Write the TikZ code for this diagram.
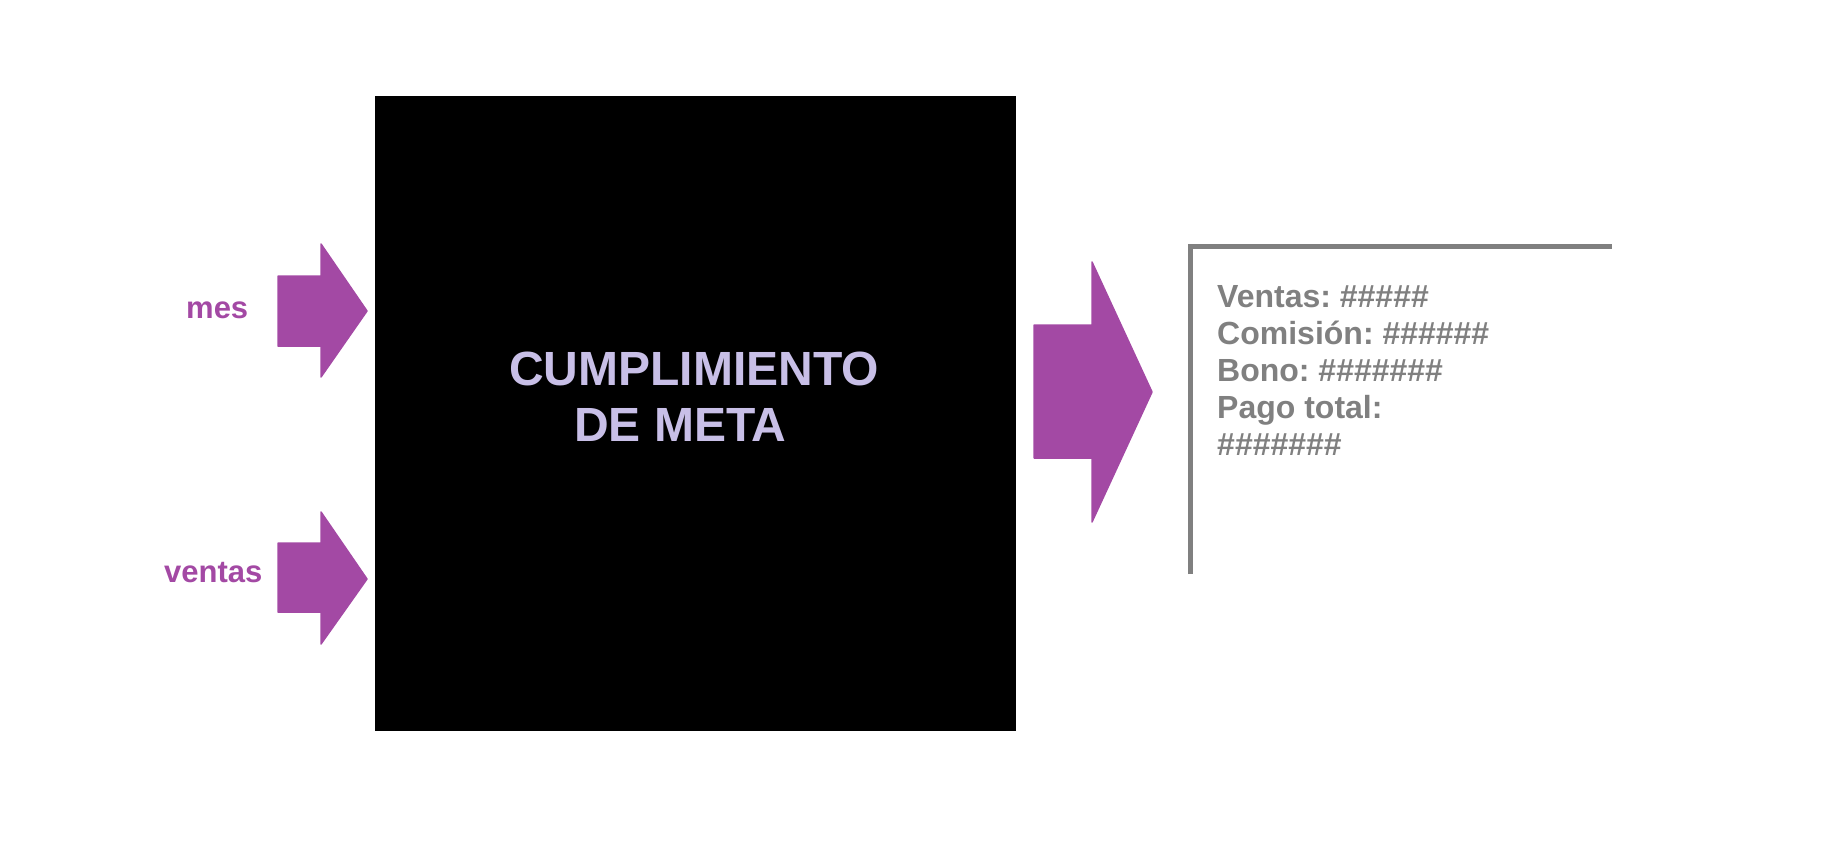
\documentclass[tikz,border=0pt]{standalone}
\usepackage{fontspec}
\setmainfont{Liberation Sans}
\frenchspacing
\definecolor{arrowpurple}{HTML}{A349A4}
\definecolor{lav}{HTML}{C8BFE7}
\definecolor{txtgray}{HTML}{808080}
\tikzset{
  fatarrow/.style={fill=arrowpurple, draw=arrowpurple, line width=1.5pt, line join=round},
  inlabel/.style={text=arrowpurple, font=\bfseries\fontsize{31}{37}\selectfont, inner sep=0pt, anchor=base west},
  titletext/.style={text=lav, font=\bfseries\fontsize{48}{56}\selectfont, inner sep=0pt, anchor=base west},
  outtext/.style={text=txtgray, font=\bfseries\fontsize{32}{36.8}\selectfont, inner sep=0pt, anchor=base west, align=left},
}
\begin{document}
\begin{tikzpicture}[x=1pt,y=-1pt]
\useasboundingbox (0,0) rectangle (1834,844);
% main black box
\node[fill=black, inner sep=0pt, minimum width=641pt, minimum height=635pt, anchor=north west] (box) at (375,96) {};
\node[titletext] (t1) at (509,385) {CUMPLIMIENTO};
\node[titletext] (t2) at (574,441) {DE META};
% input arrows
\draw[fatarrow] (278,276) -- (321,276) -- (321,244) -- (367,311) -- (321,377) -- (321,346) -- (278,346) -- cycle;
\draw[fatarrow] (278,543) -- (321,543) -- (321,512) -- (367,579) -- (321,644) -- (321,612) -- (278,612) -- cycle;
\node[inlabel] (mes) at (186,318) {mes};
\node[inlabel] (ventas) at (164,582) {ventas};
% output arrow
\draw[fatarrow] (1034,325) -- (1092,325) -- (1092,262) -- (1152,392) -- (1092,522) -- (1092,458) -- (1034,458) -- cycle;
% output bracket
\coordinate (bl) at (1190.5,574);
\coordinate (tl) at (1190.5,246.5);
\coordinate (tr) at (1612,246.5);
\draw[txtgray, line width=5pt] (bl) -- (tl) -- (tr);
\node[outtext] (out) at (1217,455) {Ventas: \#\#\#\#\#\\Comisión: \#\#\#\#\#\#\\Bono: \#\#\#\#\#\#\#\\Pago total:\\\#\#\#\#\#\#\#};
\end{tikzpicture}
\end{document}
